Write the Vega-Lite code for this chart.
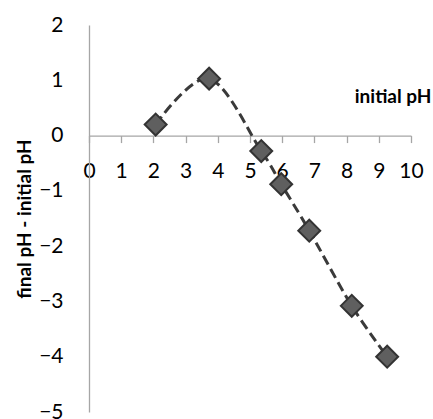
{
  "$schema": "https://vega.github.io/schema/vega-lite/v6.json",
  "width": 322,
  "height": 387,
  "autosize": {"type": "none"},
  "padding": {"left": 89, "top": 25, "right": 22, "bottom": 7},
  "background": "white",
  "config": {"view": {"stroke": null}, "font": "Lato"},
  "data": {"values": [
    {"x": 2.07, "y": 0.2},
    {"x": 3.73, "y": 1.03},
    {"x": 5.35, "y": -0.28},
    {"x": 5.97, "y": -0.88},
    {"x": 6.84, "y": -1.72},
    {"x": 8.16, "y": -3.08},
    {"x": 9.26, "y": -4.0}
  ]},
  "encoding": {
    "x": {"field": "x", "type": "quantitative",
      "scale": {"domain": [0, 10], "nice": false, "zero": false},
      "axis": {"orient": "bottom", "offset": -276.43, "values": [0,1,2,3,4,5,6,7,8,9,10], "grid": false,
        "domainColor": "#a6a6a6", "domainWidth": 1.3, "tickColor": "#a6a6a6", "tickWidth": 1.3, "tickSize": 7,
        "labelFont": "Lato", "labelFontSize": 21, "labelColor": "#000", "labelPadding": 18, "labelFlush": false,
        "title": "initial pH", "titleFont": "Lato", "titleFontSize": 19, "titleFontWeight": "bold", "titleColor": "#000",
        "titleAnchor": "end", "titleAlign": "right", "titleBaseline": "middle", "titleX": 342, "titleY": -38.6}},
    "y": {"field": "y", "type": "quantitative",
      "scale": {"domain": [-5, 2], "nice": false, "zero": false},
      "axis": {"values": [-5,-4,-3,-2,-1,0,1,2], "grid": false, "ticks": false,
        "domainColor": "#a6a6a6", "domainWidth": 1.3,
        "labelFont": "Lato", "labelFontSize": 21, "labelColor": "#000", "labelPadding": 26,
        "title": "final pH - initial pH", "titleFont": "Lato", "titleFontSize": 19, "titleFontWeight": "bold", "titleColor": "#000",
        "titleAngle": -90, "titleAnchor": "middle", "titleBaseline": "middle", "titleX": -65, "titleY": 193.5}}
  },
  "layer": [
    {"mark": {"type": "line", "interpolate": "cardinal", "color": "#3a3a3a", "strokeWidth": 3, "strokeDash": [10, 5]}},
    {"mark": {"type": "point", "shape": "diamond", "filled": true, "size": 480, "fill": "#5f5f5f", "fillOpacity": 1, "stroke": "#333333", "strokeWidth": 2, "opacity": 1}}
  ]
}
